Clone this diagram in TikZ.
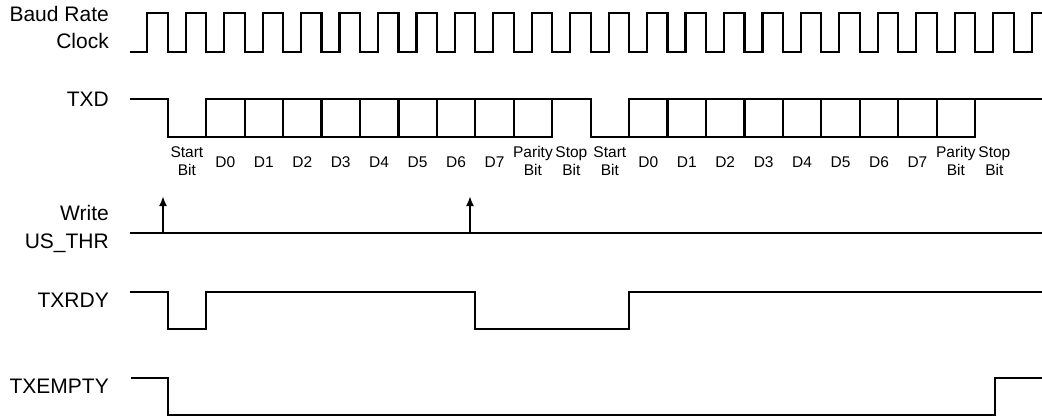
\documentclass[tikz,border=0pt]{standalone}
\usepackage{fontspec}
\setmainfont{Liberation Sans}
\usetikzlibrary{arrows.meta}
\newcommand\bitx[1]{167.7+38.45*(#1)}
\tikzset{
  sig/.style={line width=2.2pt, line join=miter},
  biglbl/.style={anchor=base east, inner sep=0pt, font=\fontsize{21}{23}\selectfont},
  smalllbl/.style={anchor=base, inner sep=0pt, font=\fontsize{15.5}{17}\selectfont},
  wrarrow/.style={line width=2.2pt, -{Latex[length=10pt,width=8pt]}}
}
\begin{document}
\begin{tikzpicture}[x=1pt,y=-1pt]
\useasboundingbox (0,0) rectangle (1042,417);
% labels
\node[biglbl] (lbaud) at (109,22) {Baud Rate};
\node[biglbl] (lclk) at (109,49) {Clock};
\node[biglbl] (ltxd) at (109,107) {TXD};
\node[biglbl] (lwr) at (109,220) {Write};
\node[biglbl] (lthr) at (109,248) {US\_THR};
\node[biglbl] (lrdy) at (109,307) {TXRDY};
\node[biglbl] (lemp) at (109,393) {TXEMPTY};
% clock
\draw[sig] (130,52) foreach \k in {0,...,22} {
  -- ({\bitx{\k}-20.45},52) -- ({\bitx{\k}-20.45},13) -- ({\bitx{\k}},13) -- ({\bitx{\k}},52) }
  -- (1031.6,52) -- (1031.6,13) -- (1042,13);
% TXD
\draw[sig] (130,99) -- ({\bitx{0}},99) -- ({\bitx{0}},137) -- ({\bitx{10}},137) -- ({\bitx{10}},99);
\draw[sig] ({\bitx{1}},137) -- ({\bitx{1}},99) -- ({\bitx{11}},99) -- ({\bitx{11}},137) -- ({\bitx{21}},137) -- ({\bitx{21}},99);
\draw[sig] ({\bitx{12}},137) -- ({\bitx{12}},99) -- (1042,99);
\foreach \k in {2,...,9,13,14,...,20} \draw[sig] ({\bitx{\k}},99) -- ({\bitx{\k}},137);
% TXD bit labels
\foreach \f in {0,11} {
  \node[smalllbl] (st\f) at ({\bitx{\f}+19.2},157.5) {Start};
  \node[smalllbl] (stb\f) at ({\bitx{\f}+19.2},175.5) {Bit};
  \foreach \d in {0,...,7} {
    \node[smalllbl] (d\f-\d) at ({\bitx{\f+1+\d}+19.2},167.5) {D\d};
  }
  \node[smalllbl] (par\f) at ({\bitx{\f+9}+19.2},157.5) {Parity};
  \node[smalllbl] (parb\f) at ({\bitx{\f+9}+19.2},175.5) {Bit};
  \node[smalllbl] (sp\f) at ({\bitx{\f+10}+19.2},157.5) {Stop};
  \node[smalllbl] (spb\f) at ({\bitx{\f+10}+19.2},175.5) {Bit};
}
% Write US_THR
\draw[sig] (130,233) coordinate (w0) -- (1042,233) coordinate (w1);
\coordinate (a1) at (163,233); \coordinate (a1t) at (163,196);
\coordinate (a2) at (470,233); \coordinate (a2t) at (470,196);
\draw[wrarrow] (a1) -- (a1t);
\draw[wrarrow] (a2) -- (a2t);
% TXRDY
\draw[sig] (130,292) -- ({\bitx{0}},292) -- ({\bitx{0}},329) -- ({\bitx{1}},329) -- ({\bitx{1}},292)
  -- ({\bitx{8}},292) -- ({\bitx{8}},329) -- ({\bitx{12}},329) -- ({\bitx{12}},292) -- (1042,292);
% TXEMPTY
\draw[sig] (131,378) -- ({\bitx{0}},378) -- ({\bitx{0}},415) -- (995,415) -- (995,378) -- (1042,378);
\end{tikzpicture}
\end{document}
